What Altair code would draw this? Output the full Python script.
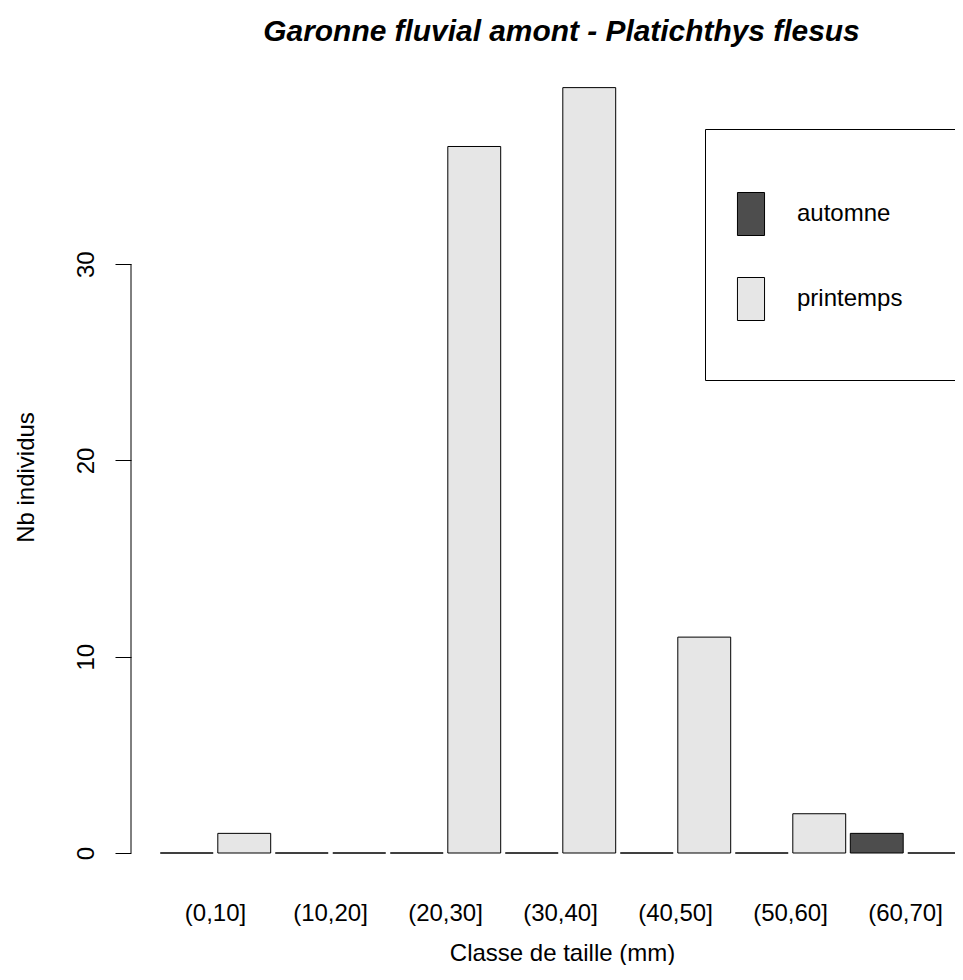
import altair as alt
import pandas as pd

# ---- data ----
CLASSES = ["(0,10]", "(10,20]", "(20,30]", "(30,40]", "(40,50]", "(50,60]", "(60,70]"]
SEASONS = ["automne", "printemps"]
AUTOMNE = [0, 0, 0, 0, 0, 0, 1]
PRINTEMPS = [1, 0, 36, 39, 11, 2, 0]
Y_TICKS = [0, 10, 20, 30]
COLORS = ["#4D4D4D", "#E6E6E6"]
TITLE = "Garonne fluvial amont - Platichthys flesus"
X_TITLE = "Classe de taille (mm)"
Y_TITLE = "Nb individus"

rows = []
for i, c in enumerate(CLASSES):
    rows.append({"classe": c, "saison": SEASONS[0], "n": AUTOMNE[i]})
    rows.append({"classe": c, "saison": SEASONS[1], "n": PRINTEMPS[i]})
df = pd.DataFrame(rows)
axis_df = pd.DataFrame({"lo": [Y_TICKS[0]], "hi": [Y_TICKS[-1]]})

FONT = "Liberation Sans"
Y_MAX = max(max(AUTOMNE), max(PRINTEMPS)) * 1.04

y_scale = alt.Scale(domain=[0, Y_MAX], nice=False, zero=True)

# legend key: a 27x43 rectangle; the trailing move-to only enlarges the
# entry's bounds so the legend box gets R-like space under the last key
KEY_SYMBOL = "M-0.63,-1H0.63V1H-0.63Z M0,2.535"

bars = alt.Chart(df).mark_bar(stroke="black", strokeWidth=1, opacity=1).encode(
    x=alt.X(
        "classe:N", sort=CLASSES,
        scale=alt.Scale(paddingInner=0, paddingOuter=0, range=[0, 805]),
        axis=alt.Axis(
            title=X_TITLE, labelAngle=0, domain=False, ticks=False, tickSize=0,
            labelPadding=67, labelBaseline="alphabetic", labelFontSize=24,
            labelFont=FONT, labelColor="black", labelOverlap=False, labelLimit=300,
            titleFontSize=24, titleFont=FONT, titleFontWeight="normal",
            titleColor="black", titleBaseline="alphabetic", titleAlign="center",
            titleX=404, titleY=107,
        ),
    ),
    xOffset=alt.XOffset("saison:N", sort=SEASONS,
                        scale=alt.Scale(paddingInner=0.08, paddingOuter=0.04)),
    y=alt.Y(
        "n:Q", scale=y_scale,
        axis=alt.Axis(
            title=Y_TITLE, values=Y_TICKS, grid=False, domain=False, offset=27,
            tickSize=16, tickColor="black", tickWidth=1,
            labelAngle=270, labelAlign="center", labelBaseline="alphabetic",
            labelPadding=22, labelFontSize=24, labelFont=FONT, labelColor="black",
            labelFlush=False, labelOverlap=False,
            titleFontSize=24, titleFont=FONT, titleFontWeight="normal",
            titleColor="black", titleAngle=270, titleAlign="center",
            titleBaseline="alphabetic", titleX=-98, titleY=420,
        ),
    ),
    color=alt.Color(
        "saison:N", sort=SEASONS,
        scale=alt.Scale(domain=SEASONS, range=COLORS),
        legend=alt.Legend(
            orient="none", legendX=547, legendY=72,
            title="printemps printemps printemps", titleColor="transparent",
            titleFontSize=20, titlePadding=19, titleLimit=215,
            padding=24, strokeColor="black", fillColor="white",
            symbolType=KEY_SYMBOL, symbolSize=1849,
            symbolStrokeColor="black", symbolStrokeWidth=1, symbolOpacity=1,
            labelFontSize=24, labelFont=FONT, labelColor="black", labelOffset=24,
            rowPadding=4,
        ),
    ),
)

y_line = alt.Chart(axis_df).mark_rule(color="black", strokeWidth=1).encode(
    y=alt.Y("lo:Q", scale=y_scale),
    y2="hi:Q",
    x=alt.value(-27),
)

chart = alt.layer(bars, y_line).properties(
    width=797,
    height=796,
    background="white",
    title=alt.TitleParams(
        TITLE, font=FONT, fontSize=29.9, fontStyle="italic", fontWeight="bold",
        anchor="middle", frame="group", offset=10, dx=5,
        color="black",
    ),
    autosize=alt.AutoSizeParams(type="none"),
    padding={"left": 150, "top": 49, "right": 0, "bottom": 112},
).configure_view(stroke=None)

chart.save("out.html", embed_options={"renderer": "svg", "actions": False})
